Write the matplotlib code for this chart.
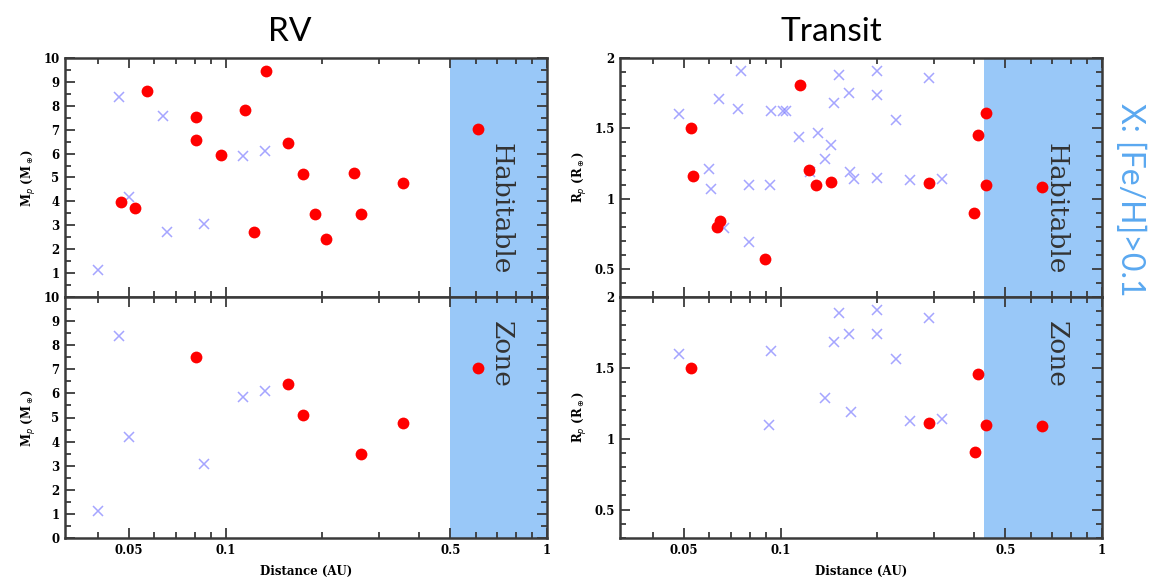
import matplotlib.pyplot as plt
from matplotlib.ticker import FixedLocator, NullFormatter

# RV panel, all planets (top) - red dots and blue crosses ([Fe/H] > 0.1)
rv_top_red_d = [0.0474, 0.0523, 0.0571, 0.0806, 0.0806, 0.0967, 0.1149, 0.1222, 0.1334,
                0.1564, 0.1742, 0.190, 0.2055, 0.250, 0.2637, 0.3556, 0.608]
rv_top_red_m = [3.98, 3.71, 8.64, 7.52, 6.58, 5.93, 7.83, 2.70, 9.47,
                6.43, 5.13, 3.49, 2.41, 5.20, 3.49, 4.76, 7.05]
rv_top_blue_d = [0.0402, 0.0465, 0.0500, 0.0639, 0.0659, 0.0859, 0.1131, 0.1327]
rv_top_blue_m = [1.15, 8.35, 4.18, 7.57, 2.74, 3.07, 5.89, 6.11]

# RV panel, bottom subset
rv_bot_red_d = [0.0806, 0.1564, 0.1742, 0.2637, 0.3556, 0.608]
rv_bot_red_m = [7.51, 6.41, 5.12, 3.47, 4.76, 7.05]
rv_bot_blue_d = [0.0402, 0.0465, 0.0500, 0.0859, 0.1131, 0.1327]
rv_bot_blue_m = [1.13, 8.38, 4.19, 3.06, 5.86, 6.10]

# Transit panel, top
tr_top_red_d = [0.0526, 0.0532, 0.0633, 0.0648, 0.0895, 0.1151, 0.1229, 0.129, 0.1434,
                0.290, 0.401, 0.4124, 0.434, 0.4355, 0.652]
tr_top_red_r = [1.50, 1.16, 0.80, 0.84, 0.57, 1.81, 1.20, 1.094, 1.12,
                1.11, 0.90, 1.45, 1.61, 1.10, 1.085]
tr_top_blue_d = [0.0484, 0.0598, 0.0607, 0.0645, 0.0664, 0.0752, 0.0736, 0.0799, 0.0796,
                 0.093, 0.0927, 0.102, 0.104, 0.1142, 0.131, 0.1377, 0.143, 0.147,
                 0.152, 0.1637, 0.1646, 0.1696, 0.1235, 0.1995, 0.199, 0.200, 0.228,
                 0.2525, 0.290, 0.318]
tr_top_blue_r = [1.60, 1.21, 1.07, 1.71, 0.79, 1.91, 1.64, 0.69, 1.094,
                 1.62, 1.10, 1.62, 1.62, 1.44, 1.47, 1.285, 1.38, 1.68,
                 1.88, 1.75, 1.19, 1.14, 1.19, 1.91, 1.74, 1.146, 1.56,
                 1.13, 1.86, 1.14]

# Transit panel, bottom
tr_bot_red_d = [0.0526, 0.290, 0.402, 0.412, 0.4355, 0.652]
tr_bot_red_r = [1.50, 1.11, 0.906, 1.454, 1.10, 1.09]
tr_bot_blue_d = [0.0484, 0.093, 0.0922, 0.1377, 0.147, 0.152, 0.1637, 0.165, 0.1995,
                 0.199, 0.228, 0.2525, 0.290, 0.318]
tr_bot_blue_r = [1.60, 1.62, 1.10, 1.287, 1.68, 1.885, 1.74, 1.19, 1.91,
                 1.736, 1.56, 1.127, 1.85, 1.136]

x_major = [0.05, 0.1, 0.5, 1]
x_labels = ['0.05', '0.1', '0.5', '1']
x_minor = [0.04, 0.06, 0.07, 0.08, 0.09, 0.2, 0.3, 0.4, 0.6, 0.7, 0.8, 0.9]
xmin, xmax = 10 ** -1.5, 1.0

rv_hz = 0.5
tr_hz = 0.43

hz_color = '#99c8f8'
red = '#ff0000'
blue = '#7f7fff'
spine_col = '#3a3a3a'

fig = plt.figure(figsize=(11.49, 5.88), dpi=100)

W, H = 1149, 588
def ax_at(x0, y0, x1, y1):
    return fig.add_axes([x0 / W, 1 - y1 / H, (x1 - x0) / W, (y1 - y0) / H])

ax_rv_top = ax_at(65, 58, 547, 297)
ax_rv_bot = ax_at(65, 297, 547, 538)
ax_tr_top = ax_at(620, 58, 1102, 297)
ax_tr_bot = ax_at(620, 297, 1102, 538)

tick_font = dict(family='DejaVu Serif', size=8.5, weight='bold')


def style(ax, hz, ylim, ymaj, yminor, ylabels, ylabel, bottom):
    ax.axvspan(hz, xmax, color=hz_color, lw=0, zorder=0)
    ax.set_xscale('log')
    ax.set_xlim(xmin, xmax)
    ax.set_ylim(*ylim)
    ax.xaxis.set_major_locator(FixedLocator(x_major))
    ax.xaxis.set_minor_locator(FixedLocator(x_minor))
    ax.xaxis.set_minor_formatter(NullFormatter())
    if bottom:
        ax.set_xticklabels(x_labels, fontdict=tick_font)
        ax.set_xlabel('Distance (AU)', fontdict=tick_font, labelpad=6)
    else:
        ax.set_xticklabels([])
    ax.yaxis.set_major_locator(FixedLocator(ymaj))
    ax.yaxis.set_minor_locator(FixedLocator(yminor))
    ax.set_yticklabels(ylabels, fontdict=tick_font)
    ax.set_ylabel(ylabel, fontdict=tick_font, labelpad=4)
    ax.tick_params(which='both', direction='in', top=True, right=True,
                   color=spine_col, width=1.3)
    ax.tick_params(which='major', length=7, pad=4)
    ax.tick_params(which='minor', length=4)
    for s in ax.spines.values():
        s.set_linewidth(1.8)
        s.set_color(spine_col)


def points(ax, rd, rv, bd, bv):
    ax.plot(bd, bv, 'x', color=blue, ms=7, mew=1.1, alpha=0.7, zorder=2)
    ax.plot(rd, rv, 'o', color=red, ms=8.5, mec='none', zorder=3)


rv_ticks = list(range(0, 11))
rv_minor = [i + 0.5 for i in range(10)]
tr_ticks = [0.5, 1, 1.5, 2]
tr_minor = [0.3 + 0.1 * i for i in range(18)]

style(ax_rv_top, rv_hz, (0, 10), rv_ticks, rv_minor,
      [''] + [str(i) for i in range(1, 11)], r'M$_p$ (M$_\oplus$)', False)
style(ax_rv_bot, rv_hz, (0, 10), rv_ticks, rv_minor,
      [str(i) for i in range(0, 11)], r'M$_p$ (M$_\oplus$)', True)
style(ax_tr_top, tr_hz, (0.3, 2), tr_ticks, tr_minor,
      ['0.5', '1', '1.5', '2'], r'R$_p$ (R$_\oplus$)', False)
style(ax_tr_bot, tr_hz, (0.3, 2), tr_ticks, tr_minor,
      ['0.5', '1', '1.5', '2'], r'R$_p$ (R$_\oplus$)', True)

points(ax_rv_top, rv_top_red_d, rv_top_red_m, rv_top_blue_d, rv_top_blue_m)
points(ax_rv_bot, rv_bot_red_d, rv_bot_red_m, rv_bot_blue_d, rv_bot_blue_m)
points(ax_tr_top, tr_top_red_d, tr_top_red_r, tr_top_blue_d, tr_top_blue_r)
points(ax_tr_bot, tr_bot_red_d, tr_bot_red_r, tr_bot_blue_d, tr_bot_blue_r)

# habitable zone labels
for ax in (ax_rv_top, ax_tr_top):
    ax.text(0.905, 0.37, 'Habitable', transform=ax.transAxes, rotation=270,
            ha='center', va='center', family='DejaVu Serif', size=19, color='#333333')
for ax in (ax_rv_bot, ax_tr_bot):
    ax.text(0.905, 0.76, 'Zone', transform=ax.transAxes, rotation=270,
            ha='center', va='center', family='DejaVu Serif', size=19, color='#333333')

fig.text(290 / W, 1 - 32 / H, 'RV', ha='center', va='center', family='Lato', size=24)
fig.text(831 / W, 1 - 32 / H, 'Transit', ha='center', va='center', family='Lato', size=24)
fig.text(1130 / W, 1 - 200 / H, 'X: [Fe/H]>0.1', rotation=270, ha='center', va='center',
         family='Lato', size=23, color='#5aa8f0')

fig.savefig('out.png', dpi=100)
